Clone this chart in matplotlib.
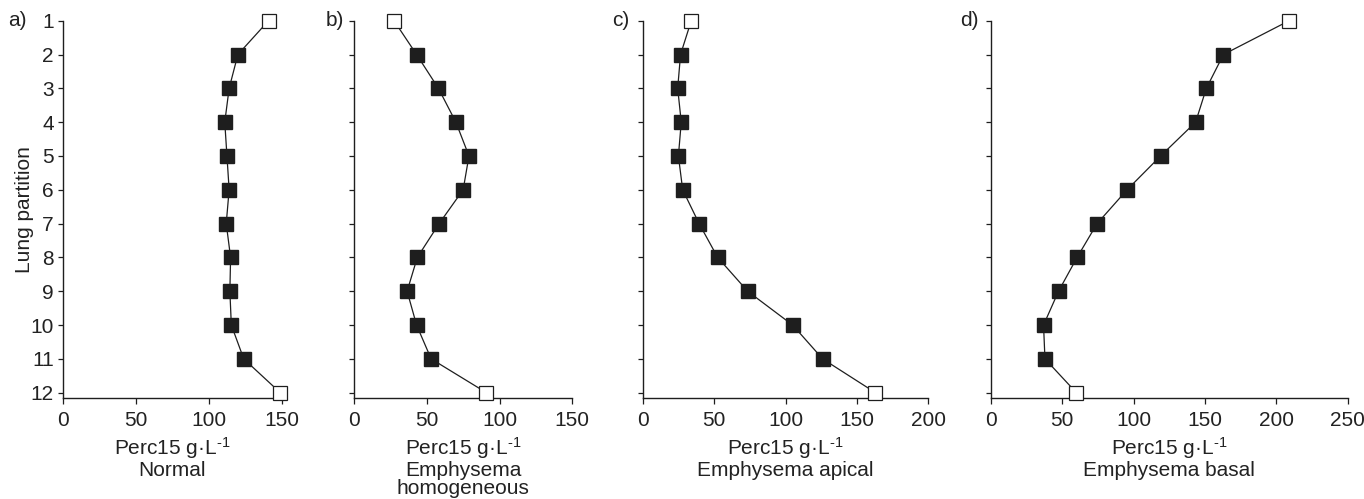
import matplotlib
matplotlib.use("Agg")
import matplotlib.pyplot as plt
import numpy as np

plt.rcParams['font.family'] = ['Liberation Sans', 'DejaVu Sans']
plt.rcParams['mathtext.fontset'] = 'custom'
plt.rcParams['mathtext.rm'] = 'Liberation Sans'
plt.rcParams['mathtext.it'] = 'Liberation Sans'

# Lung partition index (1 = apex, 12 = base)
partitions = np.arange(1, 13)

# Perc15 values (g/L)
normal = [141, 120, 114, 111, 112.5, 114, 112, 115, 114.5, 115.5, 124, 149]
homogeneous = [27.5, 43, 58, 70, 79, 75, 58.5, 43.5, 36.5, 43, 53, 91]
apical = [34, 26.5, 24.5, 27, 25, 28, 39.5, 52.5, 73.5, 105, 126, 163]
basal = [209, 163, 151, 143.5, 119, 95.5, 74.5, 60.5, 47.5, 37, 38, 60]

panels = [
    ("a)", normal, 150, [0, 50, 100, 150], "Normal"),
    ("b)", homogeneous, 150, [0, 50, 100, 150], "Emphysema\nhomogeneous"),
    ("c)", apical, 200, [0, 50, 100, 150, 200], "Emphysema apical"),
    ("d)", basal, 250, [0, 50, 100, 150, 200, 250], "Emphysema basal"),
]

# axes left/right edges in pixels
edges = [(62.7, 281.7), (354, 572.3), (642.7, 928.3), (990.7, 1347.7)]
tag_x = [8, 326, 612, 960]

W, H = 1364, 499
fig = plt.figure(figsize=(W / 100, H / 100), dpi=100)

ink = '#1e1e1e'
txt = '#222222'
fs = 15
bottom = 1 - 398.3 / H
top = 1 - 20.7 / H

for i, (tag, vals, xmax, xt, name) in enumerate(panels):
    l, r = edges[i]
    ax = fig.add_axes([l / W, bottom, (r - l) / W, top - bottom])
    ax.plot(vals, partitions, color=ink, lw=0.9, zorder=2, clip_on=False)
    ax.plot(vals[1:-1], partitions[1:-1], 's', color=ink, ms=9.5,
            mec=ink, zorder=3, clip_on=False, lw=0)
    ax.plot([vals[0], vals[-1]], [partitions[0], partitions[-1]], 's',
            mfc='white', mec=ink, mew=0.9, ms=9.5, zorder=3,
            clip_on=False, lw=0)
    ax.set_xlim(0, xmax)
    ax.set_ylim(12.166, 1)
    ax.set_xticks(xt)
    ax.set_yticks(partitions)
    for s in ['top', 'right']:
        ax.spines[s].set_visible(False)
    for s in ['left', 'bottom']:
        ax.spines[s].set_color(ink)
        ax.spines[s].set_linewidth(1.0)
    ax.tick_params(axis='both', colors=ink, labelcolor=txt,
                   labelsize=fs, width=0.9)
    ax.tick_params(axis='x', length=4, pad=5)
    ax.tick_params(axis='y', length=3.5, pad=3)
    if i > 0:
        ax.set_yticklabels([])
    else:
        ax.set_ylabel("Lung partition", fontsize=fs, color=txt, labelpad=-3)
    ax.set_xlabel("Perc15 g\u00b7L$^{\\text{-}1}$\n" + name, fontsize=fs,
                  color=txt, labelpad=4, linespacing=0.95)
    fig.text(tag_x[i] / W, 1 - 20.7 / H, tag, fontsize=fs,
             color=txt, ha='left', va='center')

fig.savefig("out.png", dpi=100)
